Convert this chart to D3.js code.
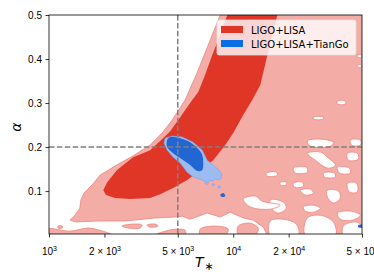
<!DOCTYPE html>
<html lang="en">
<head>
<meta charset="UTF-8" />
<title>alpha vs T*</title>
<style>
  body { margin: 0; background: #fff; }
  svg { display: block; font-family: "DejaVu Sans", sans-serif; }
  .tick text { font-size: 10px; fill: #000; }
  .tick line { stroke: #000; stroke-width: 0.8; }
  .pink { fill: #f4aca7; stroke: #ec8580; stroke-width: 0.8; }
  .hole { fill: #fff; stroke: #ec8580; stroke-width: 0.8; }
  .red { fill: #e03627; }
  .blue-outer { fill: #9cbbf0; stroke: #7aa3ec; stroke-width: 0.6; }
  .blue-core { fill: #2166d3; }
</style>
</head>
<body>
<svg width="374" height="280"></svg>
<script src="https://d3js.org/d3.v7.min.js"></script>
<script>
// [T*, alpha] outlines
const pinkOuter = [
  [8500,0.5],[7690,0.4545],[6960,0.409],[6300,0.364],[5480,0.307],[4660,0.261],
  [4110,0.232],[3540,0.2045],[2860,0.180],[2280,0.157],[1890,0.136],[1730,0.116],
  [1550,0.0955],[1490,0.080],[1470,0.061],[1370,0.043],[1300,0.034],[1400,0.030],
  [1850,0.032],[2590,0.032],[3770,0.039],[4840,0.041],[5280,0.043],[5840,0.036],
  [7220,0.050],[8500,0.041],[9630,0.052],[11330,0.039],[12850,0.034],[14560,0.018],
  [15300,0.0],[51000,0.0],[51000,0.51],[8500,0.51]
];

const holes = [
  [[15890,0.032],[18700,0.036],[22000,0.025],[22560,0.0],[15890,0.0]],
  [[25250,0.039],[29710,0.045],[34960,0.030],[35840,0.0],[24620,0.0]],
  [[39610,0.0205],[46030,0.030],[49620,0.023],[51000,0.0],[39610,0.0]],
  [[36740,0.050],[43240,0.0545],[49000,0.045],[44330,0.034],[38150,0.036]],
  [[15890,0.080],[18700,0.075],[19410,0.061],[17560,0.050],[16090,0.061]],
  [[24010,0.064],[27220,0.068],[29710,0.061],[27220,0.052],[24620,0.0545]],
  [[11330,0.082],[13170,0.0886],[14380,0.077],[18010,0.068],[15890,0.059],[12370,0.064]],
  [[23130,0.102],[26210,0.1045],[27220,0.0955],[24620,0.091]],
  [[32430,0.102],[37210,0.100],[38150,0.084],[34960,0.0727],[32430,0.0864]],
  [[41660,0.118],[46610,0.118],[47200,0.098],[42700,0.098]],
  [[18010,0.120],[19410,0.120],[19410,0.114],[18010,0.114]],
  [[15110,0.141],[17130,0.143],[17350,0.136],[15300,0.134]],
  [[21190,0.152],[24930,0.1545],[25250,0.143],[21730,0.141]],
  [[30840,0.141],[35390,0.141],[35840,0.132],[31230,0.132]],
  [[36740,0.1545],[42700,0.152],[43240,0.141],[37680,0.141]],
  [[25250,0.186],[29710,0.1886],[32430,0.177],[35840,0.159],[32830,0.152],[27910,0.170]],
  [[41660,0.186],[47200,0.186],[47790,0.1727],[42170,0.170]],
  [[25250,0.2136],[29710,0.218],[34960,0.211],[33660,0.202],[26210,0.202]],
  [[43240,0.216],[49000,0.216],[49000,0.2045],[43780,0.2045]],
  [[36740,0.3045],[40610,0.3045],[40610,0.2977],[36740,0.2977]],
  [[27220,0.268],[30840,0.268],[30840,0.2636],[27220,0.2636]],
  [[21190,0.118],[23710,0.120],[24010,0.111],[21460,0.109]],
  [[47200,0.409],[49620,0.409],[49620,0.4045],[47200,0.4045]],
  [[47200,0.386],[49620,0.386],[49620,0.382],[47200,0.382]]
];

const pinkIslands = [
  [[6620,0.0136],[7980,0.0205],[9390,0.0136],[9050,0.0],[6620,0.0]],
  [[10650,0.0205],[12370,0.027],[13670,0.016],[13170,0.0],[10650,0.0]],
  [[980,0.0136],[1300,0.009],[1630,0.016],[1890,0.011],[2200,0.0],[980,0.0]],
  [[1120,0.0205],[1180,0.0205],[1180,0.016],[1120,0.016]],
  [[2490,0.0205],[2830,0.025],[3200,0.023],[3120,0.016],[2690,0.016]],
  [[3410,0.023],[3770,0.025],[3910,0.0205],[3540,0.018]],
  [[3770,0.0],[4270,0.009],[5020,0.0136],[5480,0.011],[5480,0.0]]
];

const redCore = [
  [9280,0.51],[17350,0.51],[17350,0.5],[16290,0.4545],[15110,0.398],[14020,0.341],
  [12690,0.307],[11330,0.273],[10000,0.232],[9050,0.2045],[7790,0.170],[6620,0.148],
  [5620,0.125],[4720,0.107],[4010,0.093],[3540,0.084],[2760,0.082],[2280,0.084],
  [2040,0.091],[1970,0.102],[2070,0.120],[2340,0.148],[2860,0.177],[3540,0.193],
  [4010,0.2136],[4550,0.236],[5150,0.268],[5990,0.307],[6460,0.325],[7040,0.364],
  [7690,0.409],[8500,0.4545],[9280,0.5]
];

const blueOuter = [
  [4270,0.220],[4660,0.225],[5280,0.223],[6060,0.211],[6790,0.193],[7220,0.170],
  [7790,0.159],[7980,0.1545],[8290,0.150],[8500,0.143],[8710,0.139],[8600,0.134],
  [8710,0.130],[8290,0.125],[7990,0.128],[7790,0.123],[7420,0.124],[7220,0.118],
  [6990,0.123],[6790,0.125],[6060,0.132],[5620,0.143],[5150,0.164],[4720,0.177],
  [4380,0.193],[4210,0.209]
];

const blueCore = [
  [4380,0.216],[4550,0.223],[5150,0.220],[5840,0.211],[6380,0.198],[6790,0.182],
  [6870,0.159],[6790,0.148],[6380,0.1455],[5840,0.159],[5150,0.175],[4720,0.186],
  [4380,0.200]
];

const blueSpecks = [
  [[7050,0.120],[7300,0.120],[7300,0.116],[7050,0.116]],
  [[8290,0.111],[8500,0.111],[8500,0.107],[8290,0.107]],
  [[7700,0.116],[7900,0.116],[7900,0.113],[7700,0.113]]
];

const blueSpots = [
  [[8500,0.091],[8830,0.0955],[9050,0.0886],[8710,0.0864]],
  [[47790,0.0227],[51000,0.0227],[51000,0.018],[47790,0.018]]
];

const refT = 5000;
const refAlpha = 0.2;

const xTicks = [1000, 2000, 5000, 10000, 20000, 50000];
const xTickLabels = [["", "10", "3"], ["2 × ", "10", "3"], ["5 × ", "10", "3"],
                     ["", "10", "4"], ["2 × ", "10", "4"], ["5 × ", "10", "4"]];
const yTicks = [0.1, 0.2, 0.3, 0.4, 0.5];

const legendItems = [
  { label: "LIGO+LISA", color: "#e03627" },
  { label: "LIGO+LISA+TianGo", color: "#0a6fe6" }
];

const svg = d3.select("svg");
const margin = { top: 15, right: 12, bottom: 46, left: 49 };
const width = +svg.attr("width") - margin.left - margin.right;
const height = +svg.attr("height") - margin.top - margin.bottom;

const g = svg.append("g").attr("transform", `translate(${margin.left},${margin.top})`);

const x = d3.scaleLog().domain([1000, 50000]).range([0, width]);
const y = d3.scaleLinear().domain([0.0025, 0.5]).range([height, 0]);

g.append("defs").append("clipPath").attr("id", "plot-clip")
  .append("rect").attr("width", width).attr("height", height);

const plot = g.append("g").attr("clip-path", "url(#plot-clip)");

const poly = d3.line().x(d => x(d[0])).y(d => y(d[1])).curve(d3.curveLinearClosed);
const blob = d3.line().x(d => x(d[0])).y(d => y(d[1])).curve(d3.curveCatmullRomClosed.alpha(0.5));

plot.append("path").attr("class", "pink").attr("d", poly(pinkOuter));

plot.selectAll(".hole").data(holes).enter()
  .append("path").attr("class", "hole").attr("d", blob);

plot.selectAll(".island").data(pinkIslands).enter()
  .append("path").attr("class", "pink island").attr("d", blob);

plot.append("path").attr("class", "red").attr("d", poly(redCore));

plot.append("path").attr("class", "blue-outer").attr("d", poly(blueOuter));
plot.selectAll(".speck").data(blueSpecks).enter()
  .append("path").attr("class", "blue-outer speck").attr("d", blob);
plot.append("path").attr("class", "blue-core").attr("d", blob(blueCore));
plot.selectAll(".spot").data(blueSpots).enter()
  .append("path").attr("class", "blue-core spot").attr("d", blob);

// reference lines
plot.append("line")
  .attr("x1", x(refT)).attr("x2", x(refT))
  .attr("y1", 0).attr("y2", height)
  .attr("stroke", "#7f7f7f").attr("stroke-width", 1.5).attr("stroke-dasharray", "5.5,2.4");
plot.append("line")
  .attr("x1", 0).attr("x2", width)
  .attr("y1", y(refAlpha)).attr("y2", y(refAlpha))
  .attr("stroke", "#7f7f7f").attr("stroke-width", 1.5).attr("stroke-dasharray", "5.5,2.4");

// axes
const yAxis = g.append("g")
  .call(d3.axisLeft(y).tickValues(yTicks).tickFormat(d3.format(".1f")).tickSize(3.5).tickPadding(3.5));
yAxis.select(".domain").remove();

const xAxis = g.append("g")
  .attr("transform", `translate(0,${height})`)
  .call(d3.axisBottom(x).tickValues(xTicks).tickFormat("").tickSize(3.5).tickPadding(3.5));
xAxis.select(".domain").remove();

xAxis.selectAll(".tick").each(function (d, i) {
  const t = d3.select(this).select("text").text(null).attr("y", 14);
  const parts = xTickLabels[i];
  t.append("tspan").text(parts[0] + parts[1]);
  t.append("tspan").attr("dy", -4).style("font-size", "7px").text(parts[2]);
});

// spines
g.append("rect")
  .attr("width", width).attr("height", height)
  .attr("fill", "none").attr("stroke", "#000").attr("stroke-width", 0.8);

// axis labels
const xLabel = g.append("text")
  .attr("x", 146).attr("y", height + 33)
  .style("font-size", "14px");
xLabel.append("tspan").style("font-style", "italic").text("T");
xLabel.append("tspan").attr("dy", 3).attr("dx", 1).style("font-size", "11px").text("∗");

g.append("text")
  .attr("transform", `translate(${-28},${y(0.25) + 2}) rotate(-90)`)
  .attr("text-anchor", "middle")
  .style("font-size", "14px").style("font-style", "italic")
  .text("α");

// legend
const legend = g.append("g").attr("transform", `translate(${width - 145},5)`);
legend.append("rect")
  .attr("width", 139).attr("height", 35).attr("rx", 2)
  .attr("fill", "#fff").attr("fill-opacity", 0.8)
  .attr("stroke", "#ddd").attr("stroke-width", 0.8);

const items = legend.selectAll(".item").data(legendItems).enter()
  .append("g").attr("transform", (d, i) => `translate(4,${6 + i * 14})`);
items.append("rect").attr("width", 22).attr("height", 7).attr("fill", d => d.color);
items.append("text")
  .attr("x", 30).attr("y", 7.5)
  .style("font-size", "10px")
  .text(d => d.label);
</script>
</body>
</html>
